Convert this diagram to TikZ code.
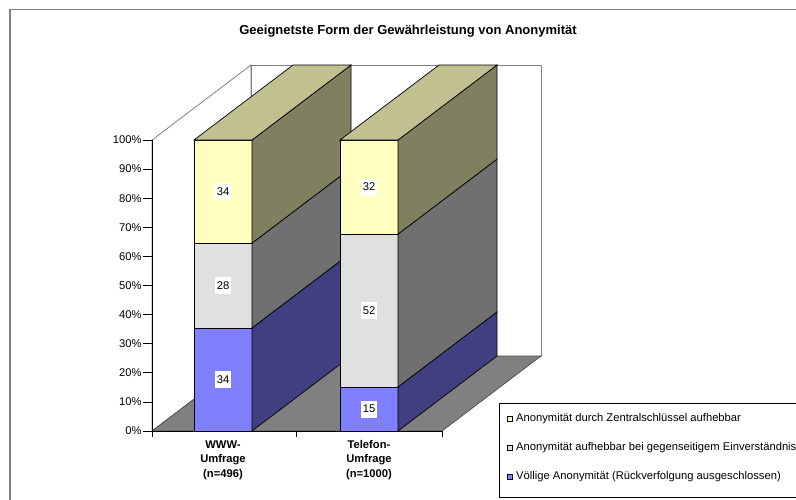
\documentclass[tikz,border=0pt]{standalone}
\usepackage{fontspec}
\setmainfont{Liberation Sans}
\definecolor{yellowFront}{RGB}{255,255,192}
\definecolor{yellowSide}{RGB}{128,128,96}
\definecolor{barTop}{RGB}{192,192,144}
\definecolor{grayFront}{RGB}{224,224,224}
\definecolor{graySide}{RGB}{112,112,112}
\definecolor{blueFront}{RGB}{128,128,255}
\definecolor{blueSide}{RGB}{64,64,128}
\definecolor{floorGray}{RGB}{128,128,128}

\begin{document}
\begin{tikzpicture}[x=1pt,y=-1pt,font=\fontsize{11.2}{13}\selectfont,
    wall/.style={draw=gray,line width=0.8pt},
    face/.style={draw=black,line width=0.7pt},
    vallabel/.style={fill=white,inner xsep=2pt,inner ysep=0pt,minimum height=17pt},
    catlabel/.style={align=center,font=\fontsize{11.2}{14.5}\selectfont\bfseries},
    legtext/.style={anchor=west,inner sep=0pt}]
\useasboundingbox (0,0) rectangle (796,499);
\draw[gray,line width=1.5pt] (10,9.5) rectangle (810,510); % outer frame
\node[font=\fontsize{13}{15}\selectfont\bfseries] (title) at (408,31.5) {Geeignetste Form der Gewährleistung von Anonymität};

% walls and floor
\filldraw[wall,fill=white] (152,140) -- (251,65) -- (251,356) -- (152,431) -- cycle; % left wall
\filldraw[wall,fill=white] (251,65) rectangle (541,356); % back wall
\filldraw[fill=floorGray,draw=black!70,line width=0.7pt] (152,431) -- (442,431) -- (541,356) -- (251,356) -- cycle; % floor

% WWW bar
\filldraw[face,fill=blueFront] (194,431) rectangle (252,327.9); % front
\filldraw[face,fill=blueSide] (252,431) -- (351,356) -- (351,252.9) -- (252,327.9) -- cycle; % side
\filldraw[face,fill=grayFront] (194,327.9) rectangle (252,243.1);
\filldraw[face,fill=graySide] (252,327.9) -- (351,252.9) -- (351,168.1) -- (252,243.1) -- cycle;
\filldraw[face,fill=yellowFront] (194,243.1) rectangle (252,140);
\filldraw[face,fill=yellowSide] (252,243.1) -- (351,168.1) -- (351,65) -- (252,140) -- cycle;
\filldraw[face,fill=barTop] (194,140) -- (293,65) -- (351,65) -- (252,140) -- cycle; % top

% Telefon bar
\filldraw[face,fill=blueFront] (340,431) rectangle (398,386.9); % front
\filldraw[face,fill=blueSide] (398,431) -- (497,356) -- (497,311.9) -- (398,386.9) -- cycle; % side
\filldraw[face,fill=grayFront] (340,386.9) rectangle (398,234.1);
\filldraw[face,fill=graySide] (398,386.9) -- (497,311.9) -- (497,159.1) -- (398,234.1) -- cycle;
\filldraw[face,fill=yellowFront] (340,234.1) rectangle (398,140);
\filldraw[face,fill=yellowSide] (398,234.1) -- (497,159.1) -- (497,65) -- (398,140) -- cycle;
\filldraw[face,fill=barTop] (340,140) -- (439,65) -- (497,65) -- (398,140) -- cycle; % top

% axes
\draw[line width=0.8pt] (152,140) -- (152,431) -- (442,431);
\foreach \p in {0,10,...,100}
  \draw[line width=0.8pt] (143,431-2.91*\p) -- (152,431-2.91*\p) node[anchor=east,inner sep=0pt,xshift=-10pt] (tick\p) {\p\%};
\foreach \x in {152,296,442}
  \draw[line width=0.8pt] (\x,431) -- (\x,437);

% value labels
\node[vallabel] (www1) at (223,379.5) {34};
\node[vallabel] (www2) at (223,285.5) {28};
\node[vallabel] (www3) at (223,191.5) {34};
\node[vallabel] (tel1) at (369,409) {15};
\node[vallabel] (tel2) at (369,310.5) {52};
\node[vallabel] (tel3) at (369,187) {32};

% categories
\node[catlabel] (catwww) at (223,460) {WWW-\\Umfrage\\(n=496)};
\node[catlabel] (cattel) at (369,460) {Telefon-\\Umfrage\\(n=1000)};

% legend
\draw[line width=0.7pt] (499,403) rectangle (820,497);
\filldraw[line width=0.5pt,fill=yellowFront] (507,416) rectangle (512,421);
\node[legtext] (leg1) at (516,418.5) {Anonymität durch Zentralschlüssel aufhebbar};
\filldraw[line width=0.5pt,fill=grayFront] (507,445) rectangle (512,450);
\node[legtext] (leg2) at (516,447.5) {Anonymität aufhebbar bei gegenseitigem Einverständnis};
\filldraw[line width=0.5pt,fill=blueFront] (507,474) rectangle (512,479);
\node[legtext] (leg3) at (516,476.5) {Völlige Anonymität (Rückverfolgung ausgeschlossen)};
\end{tikzpicture}
\end{document}
